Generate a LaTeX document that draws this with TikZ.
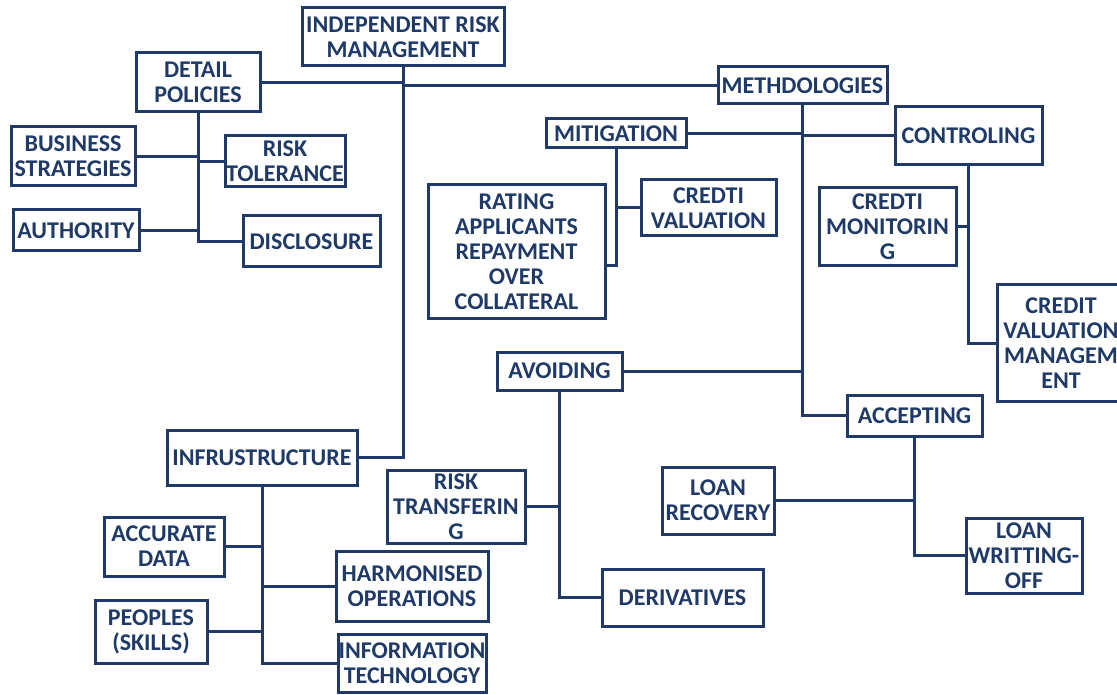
\documentclass[tikz,border=0pt]{standalone}
\usepackage{fontspec}
\setmainfont{Carlito}
\usetikzlibrary{positioning}
\definecolor{navy}{RGB}{31,58,104}

\begin{document}
\begin{tikzpicture}[
            x=1pt, y=-1pt,
            blk/.style={draw=navy, line width=3pt, align=center, text=navy, inner sep=0pt,
                        font=\fontsize{24}{25}\selectfont\bfseries},
            link/.style={draw=navy, line width=3pt}
        ]
        \path[use as bounding box, fill=white] (0,0) rectangle (1117,695);

        % top level
        \node[blk, minimum width=202pt, minimum height=58pt] (irm) at (403,37) {INDEPENDENT RISK\\MANAGEMENT};
        \node[blk, minimum width=124pt, minimum height=59pt] (dp) at (198,82.5) {DETAIL\\POLICIES};
        \node[blk, minimum width=169pt, minimum height=37pt] (meth) at (802.5,85.5) {METHDOLOGIES};
        \node[blk, minimum width=190pt, minimum height=55pt] (infra) at (262,457.5) {INFRUSTRUCTURE};

        % detail policies
        \node[blk, minimum width=124pt, minimum height=59pt] (bs) at (73,156.5) {BUSINESS\\STRATEGIES};
        \node[blk, minimum width=120pt, minimum height=51pt] (rt) at (285,161.5) {RISK\\TOLERANCE};
        \node[blk, minimum width=126pt, minimum height=41pt] (auth) at (76,230.5) {AUTHORITY};
        \node[blk, minimum width=137pt, minimum height=51pt] (disc) at (311.5,241.5) {DISCLOSURE};

        % methodologies
        \node[blk, minimum width=140pt, minimum height=29pt] (mit) at (616,133.5) {MITIGATION};
        \node[blk, minimum width=147pt, minimum height=58pt] (ctrl) at (968.5,136) {CONTROLING};
        \node[blk, minimum width=125pt, minimum height=38pt] (avoid) at (559.5,371) {AVOIDING};
        \node[blk, minimum width=135pt, minimum height=41pt] (acc) at (914.5,415.5) {ACCEPTING};

        \node[blk, minimum width=177pt, minimum height=133pt] (rate) at (516.5,251.5) {RATING\\APPLICANTS\\REPAYMENT\\OVER\\COLLATERAL};
        \node[blk, minimum width=135pt, minimum height=56pt] (cval) at (708.5,208) {CREDTI\\VALUATION};
        \node[blk, minimum width=137pt, minimum height=78pt] (cmon) at (887.5,227) {CREDTI\\MONITORIN\\G};
        \node[blk, minimum width=128pt, minimum height=116pt] (cvm) at (1061,343) {CREDIT\\VALUATION\\MANAGEM\\ENT};
        \node[blk, minimum width=138pt, minimum height=73pt] (rtr) at (456,506.5) {RISK\\TRANSFERIN\\G};
        \node[blk, minimum width=161pt, minimum height=57pt] (deriv) at (682.5,597.5) {DERIVATIVES};
        \node[blk, minimum width=112pt, minimum height=67pt] (lrec) at (718,500.5) {LOAN\\RECOVERY};
        \node[blk, minimum width=116pt, minimum height=75pt] (lwo) at (1024,555.5) {LOAN\\WRITTING-\\OFF};

        % infrustructure
        \node[blk, minimum width=120pt, minimum height=59pt] (adata) at (164,546.5) {ACCURATE\\DATA};
        \node[blk, minimum width=152pt, minimum height=70pt] (harm) at (412,586) {HARMONISED\\OPERATIONS};
        \node[blk, minimum width=112pt, minimum height=63pt] (peop) at (151,631.5) {PEOPLES\\(SKILLS)};
        \node[blk, minimum width=148pt, minimum height=58pt] (it) at (412,663) {INFORMATION\\TECHNOLOGY};

        \draw[link] (irm.south) |- (infra.east);
        \draw[link] (dp.east) -- (dp.east -| irm.south);
        \draw[link] (meth.west) -- (meth.west -| irm.south);

        \draw[link] (dp.south) |- (disc.west);
        \draw[link] (bs.east) -- (bs.east -| dp.south);
        \draw[link] (rt.west) -- (rt.west -| dp.south);
        \draw[link] (auth.east) -- (auth.east -| dp.south);

        \draw[link] (meth.south) |- (acc.west);
        \draw[link] (mit.east) -- (mit.east -| meth.south);
        \draw[link] (ctrl.west) -- (ctrl.west -| meth.south);
        \draw[link] (avoid.east) -- (avoid.east -| meth.south);

        \draw[link] (mit.south) |- ([yshift=-14pt]rate.east);
        \draw[link] (cval.west) -- (cval.west -| mit.south);
        \draw[link] (ctrl.south) |- (cvm.west);
        \draw[link] (cmon.east) -- (cmon.east -| ctrl.south);
        \draw[link] (avoid.south) |- (deriv.west);
        \draw[link] (rtr.east) -- (rtr.east -| avoid.south);
        \draw[link] (acc.south) |- (lwo.west);
        \draw[link] (lrec.east) -- (lrec.east -| acc.south);

        \draw[link] (infra.south) |- (it.west);
        \draw[link] (adata.east) -- (adata.east -| infra.south);
        \draw[link] (harm.west) -- (harm.west -| infra.south);
        \draw[link] (peop.east) -- (peop.east -| infra.south);
        \end{tikzpicture}
\end{document}
